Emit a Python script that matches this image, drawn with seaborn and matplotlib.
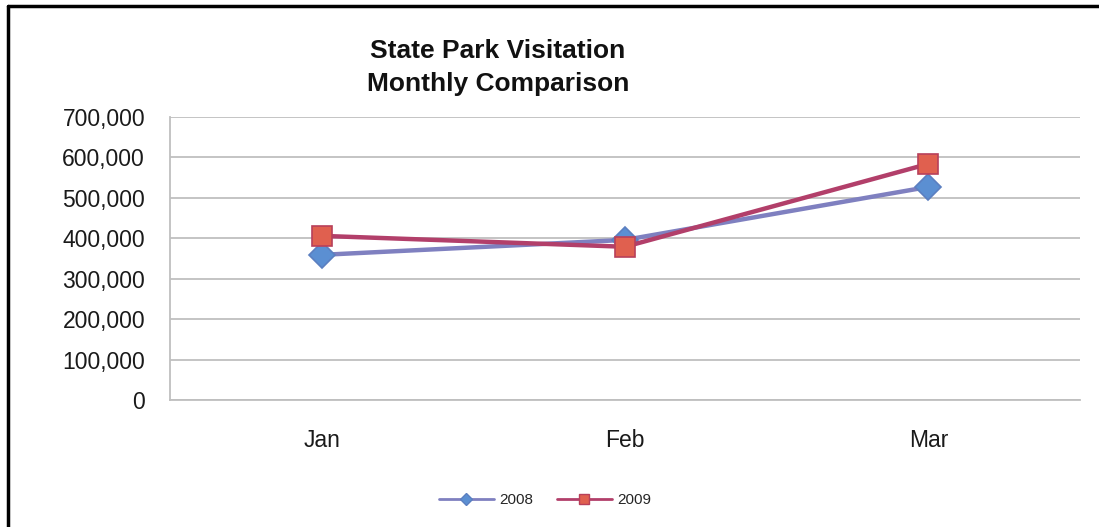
import matplotlib.pyplot as plt
import matplotlib.lines as mlines
import numpy as np
import pandas as pd
import seaborn as sns
from matplotlib.ticker import FuncFormatter

months = ["Jan", "Feb", "Mar"]
visits_2008 = [359000, 396000, 527000]
visits_2009 = [406000, 379000, 584000]
series_names = ["2008", "2009"]

data = pd.DataFrame(
    {
        "Month": months * 2,
        "Visitors": visits_2008 + visits_2009,
        "Year": [series_names[0]] * 3 + [series_names[1]] * 3,
    }
)

sns.set_theme(style="white")
plt.rcParams["font.family"] = ["Liberation Sans", "DejaVu Sans"]

fig = plt.figure(figsize=(10.99, 5.27), dpi=100)
ax = fig.add_axes([0.1547, 0.241, 0.828, 0.537])

line_colors = {"2008": "#7f80c0", "2009": "#b23f6a"}
marker_face = {"2008": "#5b8fd2", "2009": "#e0604f"}
marker_edge = {"2008": "#5b7fc0", "2009": "#b8405a"}
marker_shape = {"2008": "D", "2009": "s"}
marker_size = {"2008": 13, "2009": 15}

for name in series_names:
    sub = data[data["Year"] == name]
    sns.lineplot(
        data=sub,
        x="Month",
        y="Visitors",
        sort=False,
        color=line_colors[name],
        linewidth=3.2,
        marker=marker_shape[name],
        markersize=marker_size[name],
        markerfacecolor=marker_face[name],
        markeredgecolor=marker_edge[name],
        markeredgewidth=1.2,
        ax=ax,
        legend=False,
    )

ax.set_xlim(-0.5, 2.5)
ax.set_ylim(0, 700000)
ax.set_yticks(np.arange(0, 700001, 100000))
ax.yaxis.set_major_formatter(FuncFormatter(lambda v, p: "{:,.0f}".format(v)))
ax.grid(axis="y", color="#bfbfbf", linewidth=1.3)
ax.grid(axis="x", visible=False)
ax.set_axisbelow(True)
for side in ["top", "right"]:
    ax.spines[side].set_visible(False)
for side in ["left", "bottom"]:
    ax.spines[side].set_color("#bfbfbf")
    ax.spines[side].set_linewidth(1.3)
ax.set_xlabel("")
ax.set_ylabel("")
ax.tick_params(axis="y", labelsize=16.5, pad=18, colors="#1a1a1a", length=0)
ax.tick_params(axis="x", labelsize=16.5, pad=21, colors="#1a1a1a", length=0)

fig.text(
    0.453, 0.872, "State Park Visitation\nMonthly Comparison",
    ha="center", va="center", fontsize=19, fontweight="bold",
    linespacing=1.45, color="#111111",
)

h = [
    mlines.Line2D([], [], color=line_colors[n], linewidth=2, marker=marker_shape[n],
                  markersize=6 if n == "2008" else 7, markerfacecolor=marker_face[n],
                  markeredgecolor=marker_edge[n])
    for n in series_names
]
fig.legend(
    h, series_names, loc="center", bbox_to_anchor=(0.496, 0.051), ncol=2,
    frameon=False, fontsize=11, handlelength=3.6, columnspacing=1.5, handletextpad=0.4,
)

# outer frame (left and top edges visible)
fig.add_artist(mlines.Line2D([0.0073, 0.0073], [0, 0.9886], color="black", linewidth=2.5,
                             transform=fig.transFigure))
fig.add_artist(mlines.Line2D([0.0073, 1.0], [0.9886, 0.9886], color="black", linewidth=2.5,
                             transform=fig.transFigure))

plt.savefig("out.png", dpi=100)
